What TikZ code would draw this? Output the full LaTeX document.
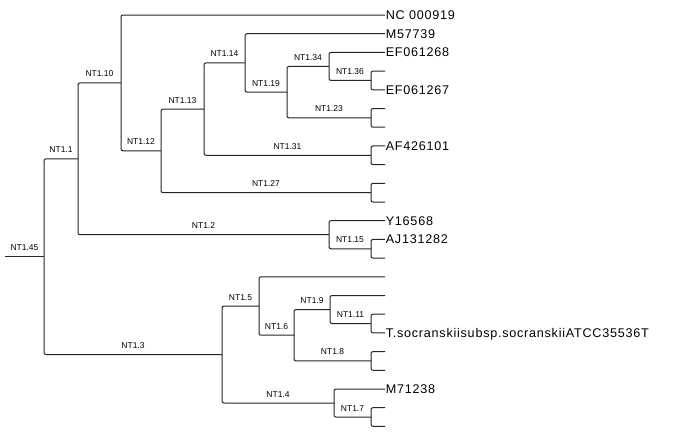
\documentclass[tikz,border=0pt]{standalone}
\usepackage{fontspec}
\setmainfont{Liberation Sans}
\newfontfamily\leaffont[LetterSpace=6]{Liberation Sans}
\newfontfamily\cladefont{Liberation Sans}
\begin{document}
\begin{tikzpicture}[x=1pt,y=-1pt,
  branch/.style={draw=black!85, line width=1pt, rounded corners=2pt},
  clade/.style={font=\cladefont\fontsize{8.5}{10}\selectfont, anchor=base, inner sep=0pt, yshift=6pt},
  taxon/.style={font=\leaffont\fontsize{12.6}{15}\selectfont, anchor=base west, inner sep=0pt, xshift=0.6pt, yshift=-4.5pt}]
\fill[white] (0,0) rectangle (695,447);
\useasboundingbox (0,0) rectangle (695,447);

% leaf tips, evenly spaced
\foreach \i in {0,...,22} {
  \coordinate (l\i) at (385,{15+18.7*\i});
}

% internal nodes
\coordinate (stem) at (5,256.68);
\coordinate (n145) at (44,256.68);
\coordinate (n11)  at (78,158.83);
\coordinate (n110) at (121,82.94);
\coordinate (n112) at (161,150.87);
\coordinate (n113) at (204,109.09);
\coordinate (n114) at (245,62.92);
\coordinate (n119) at (287,92.14);
\coordinate (n134) at (329,66.43);
\coordinate (n136) at (371,80.45);
\coordinate (n123) at (371,117.85);
\coordinate (n131) at (371,155.25);
\coordinate (n127) at (371,192.65);
\coordinate (n12)  at (329,234.73);
\coordinate (n115) at (371,248.75);
\coordinate (n13)  at (222,354.52);
\coordinate (n15)  at (259,306.02);
\coordinate (n16)  at (294,335.24);
\coordinate (n19)  at (330,309.53);
\coordinate (n111) at (371,323.55);
\coordinate (n18)  at (371,360.95);
\coordinate (n14)  at (334,403.03);
\coordinate (n17)  at (371,417.05);

% root stem
\draw[branch] (stem) -- (n145) node[clade, midway] {NT1.45};

% labelled branches
\draw[branch] (n145) |- (n11)  node[clade, pos=0.75] {NT1.1};
\draw[branch] (n145) |- (n13)  node[clade, pos=0.75] {NT1.3};
\draw[branch] (n11)  |- (n110) node[clade, pos=0.75] {NT1.10};
\draw[branch] (n11)  |- (n12)  node[clade, pos=0.75] {NT1.2};
\draw[branch] (n110) |- (n112) node[clade, pos=0.75] {NT1.12};
\draw[branch] (n112) |- (n113) node[clade, pos=0.75] {NT1.13};
\draw[branch] (n112) |- (n127) node[clade, pos=0.75] {NT1.27};
\draw[branch] (n113) |- (n114) node[clade, pos=0.75] {NT1.14};
\draw[branch] (n113) |- (n131) node[clade, pos=0.75] {NT1.31};
\draw[branch] (n114) |- (n119) node[clade, pos=0.75] {NT1.19};
\draw[branch] (n119) |- (n134) node[clade, pos=0.75] {NT1.34};
\draw[branch] (n119) |- (n123) node[clade, pos=0.75] {NT1.23};
\draw[branch] (n134) |- (n136) node[clade, pos=0.75] {NT1.36};
\draw[branch] (n12)  |- (n115) node[clade, pos=0.75] {NT1.15};
\draw[branch] (n13)  |- (n15)  node[clade, pos=0.75] {NT1.5};
\draw[branch] (n13)  |- (n14)  node[clade, pos=0.75] {NT1.4};
\draw[branch] (n15)  |- (n16)  node[clade, pos=0.75] {NT1.6};
\draw[branch] (n16)  |- (n19)  node[clade, pos=0.75] {NT1.9};
\draw[branch] (n16)  |- (n18)  node[clade, pos=0.75] {NT1.8};
\draw[branch] (n19)  |- (n111) node[clade, pos=0.75] {NT1.11};
\draw[branch] (n14)  |- (n17)  node[clade, pos=0.75] {NT1.7};

% terminal branches
\draw[branch] (n110) |- (l0);
\draw[branch] (n114) |- (l1);
\draw[branch] (n134) |- (l2);
\draw[branch] (n136) |- (l3);
\draw[branch] (n136) |- (l4);
\draw[branch] (n123) |- (l5);
\draw[branch] (n123) |- (l6);
\draw[branch] (n131) |- (l7);
\draw[branch] (n131) |- (l8);
\draw[branch] (n127) |- (l9);
\draw[branch] (n127) |- (l10);
\draw[branch] (n12)  |- (l11);
\draw[branch] (n115) |- (l12);
\draw[branch] (n115) |- (l13);
\draw[branch] (n15)  |- (l14);
\draw[branch] (n19)  |- (l15);
\draw[branch] (n111) |- (l16);
\draw[branch] (n111) |- (l17);
\draw[branch] (n18)  |- (l18);
\draw[branch] (n18)  |- (l19);
\draw[branch] (n14)  |- (l20);
\draw[branch] (n17)  |- (l21);
\draw[branch] (n17)  |- (l22);

% taxon names
\node[taxon] (t0)  at (l0)  {NC 000919};
\node[taxon] (t1)  at (l1)  {M57739};
\node[taxon] (t2)  at (l2)  {EF061268};
\node[taxon] (t4)  at (l4)  {EF061267};
\node[taxon] (t7)  at (l7)  {AF426101};
\node[taxon] (t11) at (l11) {Y16568};
\node[taxon] (t12) at (l12) {AJ131282};
\node[taxon] (t17) at (l17) {T.socranskiisubsp.socranskiiATCC35536T};
\node[taxon] (t20) at (l20) {M71238};
\end{tikzpicture}
\end{document}
